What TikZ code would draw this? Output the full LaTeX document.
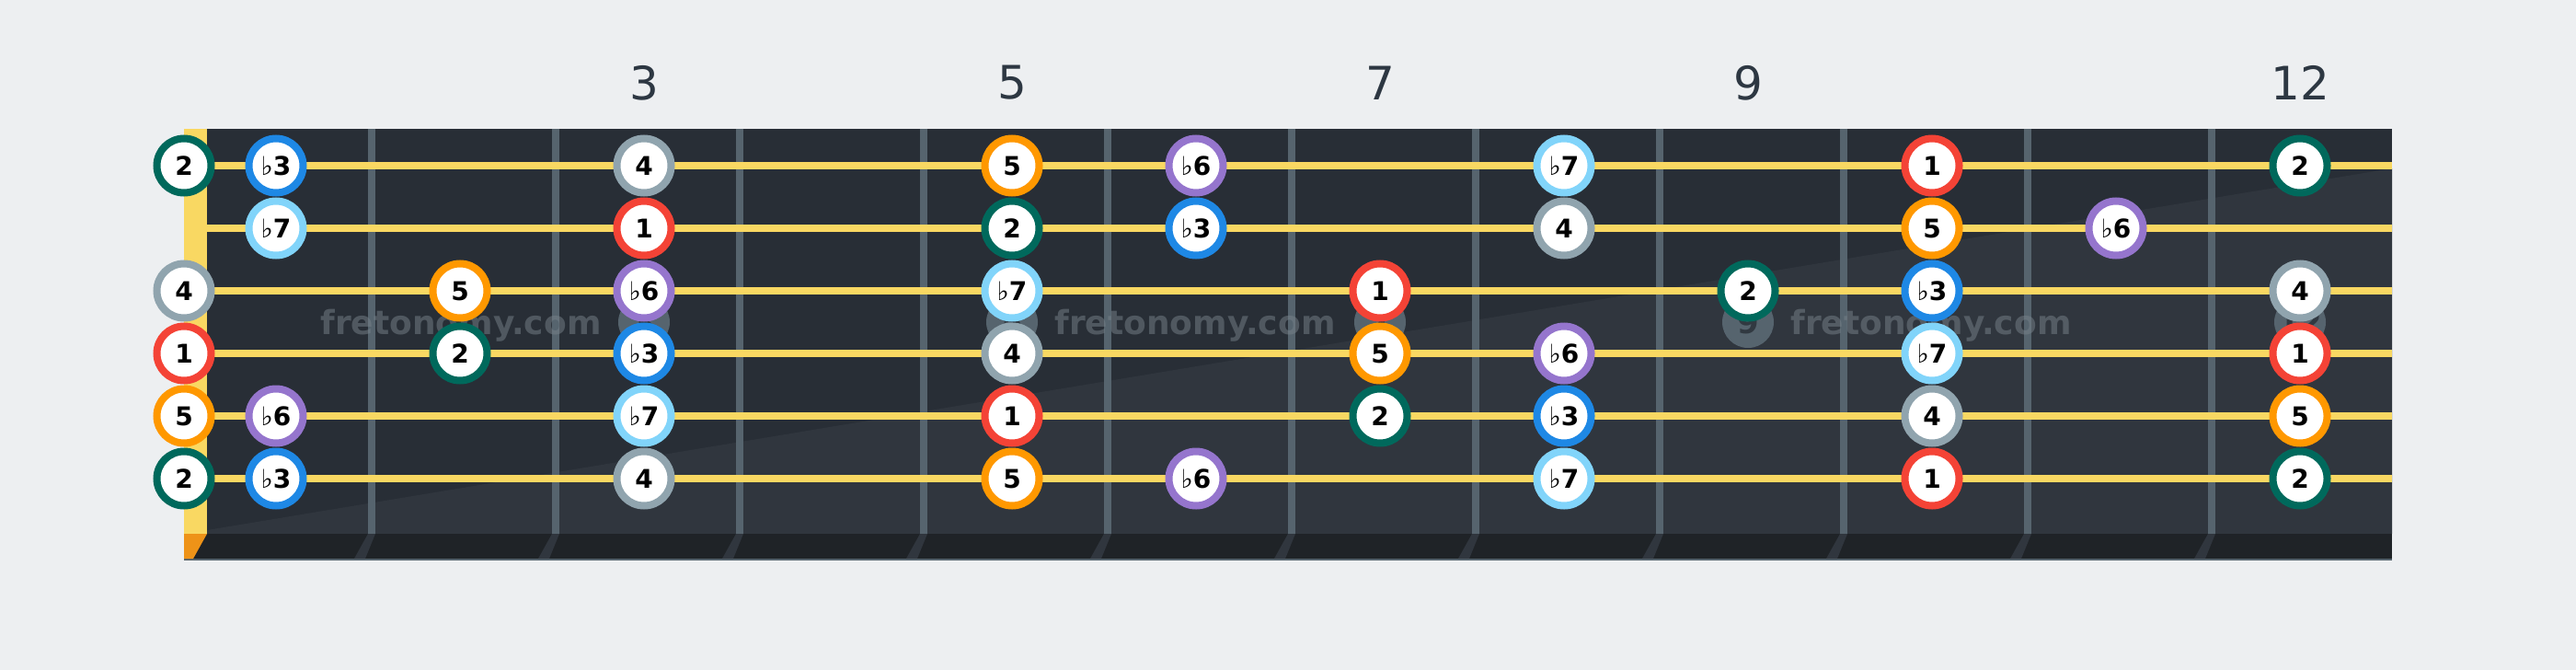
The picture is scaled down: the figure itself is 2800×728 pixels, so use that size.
\documentclass[tikz,border=0pt]{standalone}
\usepackage{fontspec}
\setmainfont{DejaVu Sans}
\usepackage{tikz}

\definecolor{paper}{HTML}{EDEFF1}
\definecolor{board}{HTML}{282E36}
\definecolor{boardlit}{HTML}{30363E}
\definecolor{edge}{HTML}{1F2327}
\definecolor{fretc}{HTML}{56646E}
\definecolor{stringc}{HTML}{F9D862}
\definecolor{nutfoot}{HTML}{EE9318}
\definecolor{numc}{HTML}{2D3742}
\definecolor{cOne}{HTML}{F44336}
\definecolor{cTwo}{HTML}{00695C}
\definecolor{cThree}{HTML}{1E88E5}
\definecolor{cFour}{HTML}{90A4AE}
\definecolor{cFive}{HTML}{FF9800}
\definecolor{cSix}{HTML}{9575CD}
\definecolor{cSeven}{HTML}{81D4FA}

\newcommand{\flt}{{\mdseries\char"266D}}

\begin{document}
\begin{tikzpicture}[x=1pt, y=-1pt,
    every node/.style={inner sep=0pt},
    note/.style={circle, draw, line width=8pt, fill=white, minimum size=59pt,
      font=\fontsize{28}{28}\selectfont\bfseries},
    one/.style={note, draw=cOne},
    two/.style={note, draw=cTwo},
    three/.style={note, draw=cThree},
    four/.style={note, draw=cFour},
    five/.style={note, draw=cFive},
    six/.style={note, draw=cSix},
    seven/.style={note, draw=cSeven},
    fretnum/.style={text=numc, font=\fontsize{50}{50}\selectfont},
    inlay/.style={circle, fill=fretc, minimum size=56pt, text=board!80!fretc,
      font=\fontsize{34}{34}\selectfont\bfseries},
    wmark/.style={text=fretc!80!white, text opacity=0.5,
      font=\fontsize{36}{36}\selectfont\bfseries}
    ]
    \fill[paper] (0,0) rectangle (2800,728);
    % board
    \fill[board] (200,140) rectangle (2600,580);
    \fill[boardlit] (225,576) -- (2600,183) -- (2600,580) -- (225,580) -- cycle;
    \fill[edge] (200,580) rectangle (2600,608);
    \draw[fretc, line width=2pt] (200,608) -- (2600,608);
    \fill[stringc] (200,140) rectangle (225,580);
    \fill[nutfoot] (200,580) -- (225,580) -- (210,607) -- (200,607) -- cycle;
    \foreach \f in {404,604,...,2404} {
      \fill[boardlit] (\f-4,580) -- (\f+4,580) -- (\f-7,607) -- (\f-19,607) -- cycle;
      \draw[fretc, line width=8pt] (\f,140) -- (\f,580);
    }
    % fret numbers and inlays
    \node[fretnum] (num3) at (700,90) {3};
    \node[fretnum] (num5) at (1100,90) {5};
    \node[fretnum] (num7) at (1500,90) {7};
    \node[fretnum] (num9) at (1900,90) {9};
    \node[fretnum] (num12) at (2500,90) {12};
    \node[inlay] (dot3) at (700,350) {3};
    \node[inlay] (dot5) at (1100,350) {5};
    \node[inlay] (dot7) at (1500,350) {7};
    \node[inlay] (dot9) at (1900,350) {9};
    \node[inlay] (dot12) at (2500,350) {12};
    \node[wmark, anchor=base] (wm1) at (501,363) {fretonomy.com};
    \node[wmark, anchor=base] (wm2) at (1299,363) {fretonomy.com};
    \node[wmark, anchor=base] (wm3) at (2099,363) {fretonomy.com};
    % strings
    \foreach \s in {180,248,316,384,452,520}
      \draw[stringc, line width=8pt] (225,\s) -- (2600,\s);
    % string 1
    \node[two] (s1f0) at (200,180) {2};
    \node[three] (s1f1) at (300,180) {\flt3};
    \node[four] (s1f3) at (700,180) {4};
    \node[five] (s1f5) at (1100,180) {5};
    \node[six] (s1f6) at (1300,180) {\flt6};
    \node[seven] (s1f8) at (1700,180) {\flt7};
    \node[one] (s1f10) at (2100,180) {1};
    \node[two] (s1f12) at (2500,180) {2};
    % string 2
    \node[seven] (s2f1) at (300,248) {\flt7};
    \node[one] (s2f3) at (700,248) {1};
    \node[two] (s2f5) at (1100,248) {2};
    \node[three] (s2f6) at (1300,248) {\flt3};
    \node[four] (s2f8) at (1700,248) {4};
    \node[five] (s2f10) at (2100,248) {5};
    \node[six] (s2f11) at (2300,248) {\flt6};
    % string 3
    \node[four] (s3f0) at (200,316) {4};
    \node[five] (s3f2) at (500,316) {5};
    \node[six] (s3f3) at (700,316) {\flt6};
    \node[seven] (s3f5) at (1100,316) {\flt7};
    \node[one] (s3f7) at (1500,316) {1};
    \node[two] (s3f9) at (1900,316) {2};
    \node[three] (s3f10) at (2100,316) {\flt3};
    \node[four] (s3f12) at (2500,316) {4};
    % string 4
    \node[one] (s4f0) at (200,384) {1};
    \node[two] (s4f2) at (500,384) {2};
    \node[three] (s4f3) at (700,384) {\flt3};
    \node[four] (s4f5) at (1100,384) {4};
    \node[five] (s4f7) at (1500,384) {5};
    \node[six] (s4f8) at (1700,384) {\flt6};
    \node[seven] (s4f10) at (2100,384) {\flt7};
    \node[one] (s4f12) at (2500,384) {1};
    % string 5
    \node[five] (s5f0) at (200,452) {5};
    \node[six] (s5f1) at (300,452) {\flt6};
    \node[seven] (s5f3) at (700,452) {\flt7};
    \node[one] (s5f5) at (1100,452) {1};
    \node[two] (s5f7) at (1500,452) {2};
    \node[three] (s5f8) at (1700,452) {\flt3};
    \node[four] (s5f10) at (2100,452) {4};
    \node[five] (s5f12) at (2500,452) {5};
    % string 6
    \node[two] (s6f0) at (200,520) {2};
    \node[three] (s6f1) at (300,520) {\flt3};
    \node[four] (s6f3) at (700,520) {4};
    \node[five] (s6f5) at (1100,520) {5};
    \node[six] (s6f6) at (1300,520) {\flt6};
    \node[seven] (s6f8) at (1700,520) {\flt7};
    \node[one] (s6f10) at (2100,520) {1};
    \node[two] (s6f12) at (2500,520) {2};
  \end{tikzpicture}
\end{document}
